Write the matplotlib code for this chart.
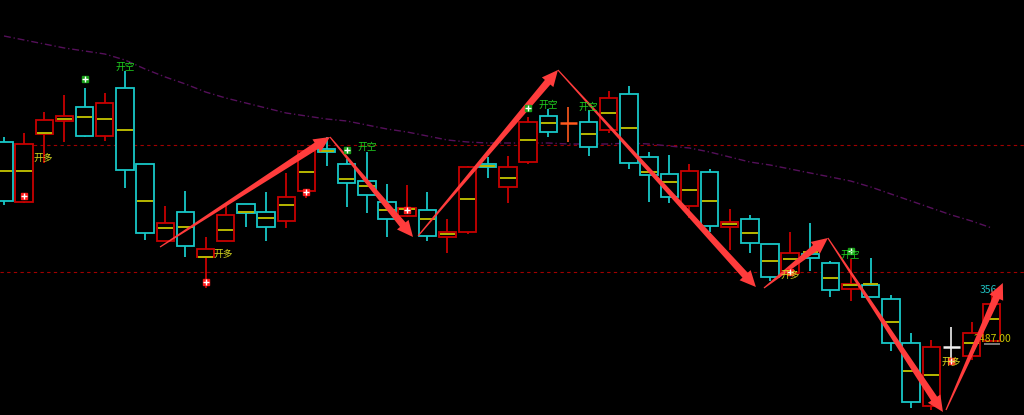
import numpy as np
import matplotlib
matplotlib.use("Agg")
import matplotlib.pyplot as plt
from matplotlib.patches import Rectangle, Polygon

plt.rcParams['font.family'] = ['Noto Sans CJK SC', 'DejaVu Sans']

# candle data (price units)
opens  = [2684, 2624, 2692, 2705, 2719, 2690, 2738, 2662, 2585, 2614,
          2569, 2585, 2622, 2614, 2605, 2635, 2677, 2662, 2645, 2624,
          2610, 2616, 2589, 2594, 2662, 2639, 2664, 2710, 2703, 2704,
          2696, 2732, 2669, 2652, 2620, 2654, 2599, 2607, 2582, 2553,
          2572, 2563, 2537, 2541, 2527, 2483, 2420, 2479, 2470, 2485]
closes = [2625, 2682, 2706, 2710, 2690, 2723, 2656, 2593, 2603, 2580,
          2577, 2611, 2613, 2599, 2629, 2675, 2674, 2643, 2631, 2607,
          2618, 2590, 2594, 2659, 2659, 2659, 2704, 2694, 2703, 2679,
          2728, 2663, 2651, 2629, 2655, 2600, 2604, 2583, 2549, 2573,
          2568, 2536, 2542, 2529, 2483, 2424, 2479, 2479, 2493, 2522]
highs  = [2689, 2693, 2714, 2731, 2738, 2733, 2755, 2662, 2620, 2635,
          2589, 2621, 2622, 2634, 2653, 2675, 2689, 2667, 2674, 2642,
          2641, 2634, 2607, 2660, 2669, 2670, 2709, 2717, 2719, 2716,
          2735, 2740, 2674, 2671, 2662, 2657, 2617, 2611, 2582, 2594,
          2603, 2565, 2567, 2568, 2531, 2493, 2486, 2499, 2504, 2536]
lows   = [2621, 2623, 2663, 2684, 2689, 2685, 2638, 2586, 2585, 2569,
          2538, 2585, 2599, 2585, 2598, 2628, 2660, 2619, 2613, 2589,
          2609, 2585, 2573, 2592, 2648, 2623, 2662, 2689, 2684, 2670,
          2693, 2657, 2624, 2623, 2608, 2594, 2576, 2573, 2545, 2551,
          2555, 2529, 2525, 2529, 2475, 2418, 2416, 2466, 2466, 2485]
mids   = [2655, 2655, 2693, 2707, 2709, 2707, 2696, 2625, 2598, 2599,
          2569, 2596, 2614, 2608, 2621, 2654, 2675, 2647, 2640, 2616,
          2617, 2607, 2592, 2627, 2660, 2648, 2686, 2703, 2703, 2692,
          2713, 2698, 2654, 2644, 2636, 2625, 2602, 2593, 2565, 2567,
          2574, 2548, 2541, 2542, 2504, 2455, 2451, 2479, 2483, 2507]
doji_colors = {28: '#ff5a1e', 47: '#f0f0f0'}

# moving average (dashed purple)
ma = [2790, 2786, 2782, 2778, 2775, 2772, 2766, 2757, 2749, 2742,
      2734, 2728, 2723, 2718, 2713, 2710, 2707, 2705, 2701, 2697,
      2694, 2690, 2686, 2684, 2683, 2683, 2683, 2683, 2682, 2682,
      2682, 2683, 2682, 2680, 2678, 2674, 2669, 2664, 2661, 2657,
      2653, 2649, 2645, 2639, 2632, 2625, 2618, 2611, 2605, 2598]

levels = [2681, 2554]

# zigzag arrows: start (x, price) -> end (x, price)
zz_x0 = [7.74, 16.17, 20.54, 27.48, 37.70, 40.87, 46.73]
zz_p0 = [2579, 2689, 2590, 2756, 2538, 2588, 2416]
zz_x1 = [16.17, 20.29, 27.48, 37.30, 40.87, 46.58, 49.55]
zz_p1 = [2689, 2589, 2756, 2539, 2588, 2414, 2543]

# signals
buy_x = [1, 10, 15, 20, 39, 47]
buy_p = [2630, 2544, 2634, 2616, 2554, 2465]
sell_x = [4, 17, 42, 26]
sell_p = [2747, 2676, 2575, 2718]
open_short_x = [6, 18, 27, 29, 42]
open_short_p = [2759, 2679, 2721, 2719, 2571]
open_long_x = [1.93, 10.9, 39, 47]
open_long_p = [2668, 2572, 2551, 2464]

last_price = 2487.00

fig = plt.figure(figsize=(10.24, 4.15), dpi=100, facecolor='black')
ax = fig.add_axes([0, 0, 1, 1])
ax.set_facecolor('black')
ax.set_xlim(-0.198, 50.6)
ax.set_ylim(2411, 2826)
ax.axis('off')

for lv in levels:
    ax.axhline(lv, color='#a00000', lw=0.8, ls=(0, (3, 3)), zorder=1)

ax.plot(range(len(ma)), ma, color='#55105a', lw=1.0, ls=(0, (5, 2, 1, 2)), zorder=1)

w = 0.86
for i in range(len(opens)):
    o, c, h, l = opens[i], closes[i], highs[i], lows[i]
    if i in doji_colors:
        col = doji_colors[i]
        ax.vlines(i, l, h, color=col, lw=1.2, zorder=2)
        ax.hlines(o, i - w / 2, i + w / 2, color=col, lw=1.8, zorder=3)
        continue
    col = '#c80000' if c >= o else '#18c8c8'
    ax.vlines(i, l, h, color=col, lw=1.3, zorder=2)
    bot, top = min(o, c), max(o, c)
    ax.add_patch(Rectangle((i - w / 2, bot), w, top - bot, facecolor='black',
                           edgecolor=col, lw=1.3, zorder=3))
    ax.hlines(mids[i], i - w / 2 + 0.05, i + w / 2 - 0.05, color='#b8b800', lw=1.4, zorder=4)

# tapered arrows, shaped in pixel space then mapped back to data
to_px = ax.transData
to_data = ax.transData.inverted()
for x0, p0, x1, p1 in zip(zz_x0, zz_p0, zz_x1, zz_p1):
    s = to_px.transform((x0, p0))
    e = to_px.transform((x1, p1))
    u = (e - s) / np.hypot(*(e - s))
    n = np.array([-u[1], u[0]])
    b = e - u * 16
    pts = [s + n * 0.6, b + n * 3.6, b + n * 7.5, e,
           b - n * 7.5, b - n * 3.6, s - n * 0.6]
    ax.add_patch(Polygon(to_data.transform(np.array(pts)), closed=True,
                         facecolor='#ff3c3c', edgecolor='none', zorder=6))

ax.plot(buy_x, buy_p, 's', ms=5, color='#ff1a1a', zorder=7)
ax.plot(buy_x, buy_p, '+', ms=4, mew=1, color='white', zorder=8)
ax.plot(sell_x, sell_p, 's', ms=5, color='#18a018', zorder=7)
ax.plot(sell_x, sell_p, '+', ms=4, mew=1, color='white', zorder=8)

for x, p in zip(open_short_x, open_short_p):
    ax.text(x, p, '开空', color='#20d020', fontsize=7, ha='center', va='center', zorder=9)
for x, p in zip(open_long_x, open_long_p):
    ax.text(x, p, '开多', color='#d8d820', fontsize=7, ha='center', va='center', zorder=9)

ax.text(48.4, 2536, '356', color='#20c0c0', fontsize=7.5, ha='left', va='center', zorder=5)
ax.text(48.1, 2487, '%.2f' % last_price, color='#c8c800', fontsize=7.5, ha='left', va='center', zorder=5)
ax.hlines(2482, 48.6, 49.4, color='#909090', lw=1.2, zorder=5)

fig.savefig('out.png', dpi=100, facecolor='black')
